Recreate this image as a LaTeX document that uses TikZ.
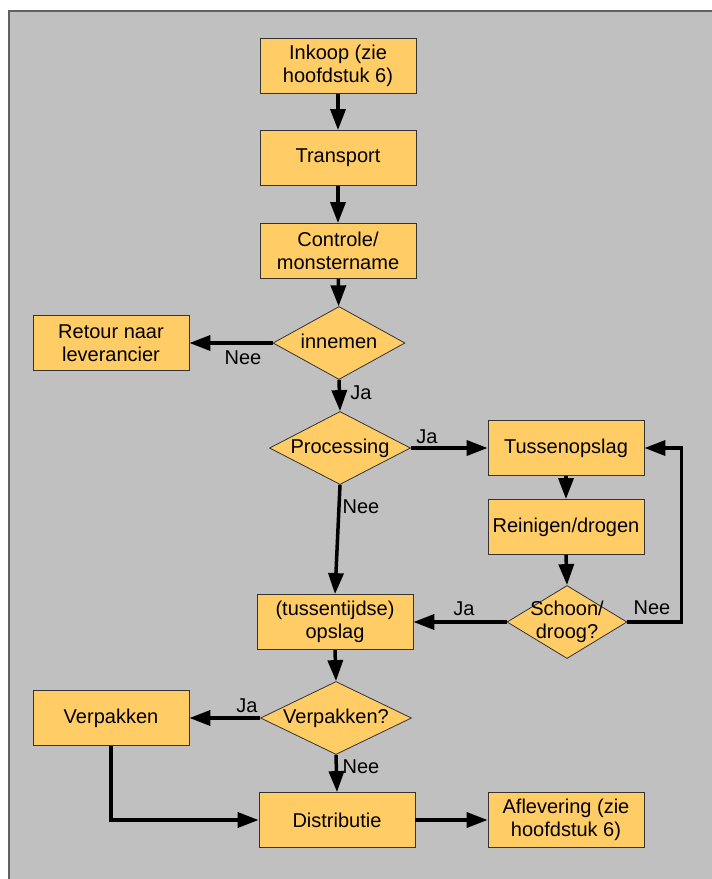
\documentclass[tikz,border=0pt]{standalone}
\usepackage{fontspec}
\setmainfont{Liberation Sans}
\usetikzlibrary{shapes.geometric,arrows.meta}
\definecolor{boxfill}{HTML}{FFCC66}
\definecolor{bggray}{HTML}{C0C0C0}
\definecolor{edgegray}{HTML}{606060}
\newcommand\dtext[1]{\smash{\makebox[0pt]{\raisebox{-6pt}{\begin{tabular}{@{}c@{}}#1\end{tabular}}}}}
\tikzset{
  procbox/.style={rectangle, draw=black!80, line width=0.8pt, fill=boxfill,
    minimum width=156pt, minimum height=55pt, inner sep=0pt, align=center,
    font=\fontsize{20pt}{23pt}\selectfont},
  decbox/.style={diamond, draw=black!80, line width=0.8pt, fill=boxfill,
    inner sep=0pt, font=\fontsize{20pt}{23pt}\selectfont},
  flow/.style={line width=3.5pt, -{Triangle[length=21pt,width=15pt]}},
  lbl/.style={font=\fontsize{20pt}{23pt}\selectfont, inner sep=0pt}
}
\begin{document}
\begin{tikzpicture}[x=1pt,y=-1pt]
\useasboundingbox (0,0) rectangle (712,879);
\fill[white] (0,0) rectangle (712,879);
\fill[bggray] (9,11) rectangle (712,879);
\draw[edgegray, line width=2pt] (9,879) -- (9,11) -- (712,11);

\node[procbox] (inkoop) at (338,66) {Inkoop (zie\\hoofdstuk 6)};
\node[procbox] (transport) at (338,158) {Transport};
\node[procbox] (controle) at (338,251) {Controle/\\monstername};
\node[decbox, minimum width=132pt, minimum height=73pt] (innemen) at (339,343) {\dtext{innemen}};
\node[procbox] (retour) at (111,343) {Retour naar\\leverancier};
\node[decbox, minimum width=141pt, minimum height=73pt] (processing) at (340,448) {\dtext{Processing}};
\node[procbox] (tussen) at (566,448) {Tussenopslag};
\node[procbox] (reinigen) at (566,527) {Reinigen/drogen};
\node[decbox, minimum width=120pt, minimum height=73pt] (schoon) at (567,622) {\dtext{Schoon/\\droog?}};
\node[procbox] (opslag) at (335,622) {(tussentijdse)\\opslag};
\node[decbox, minimum width=151pt, minimum height=73pt] (verpq) at (336,718) {\dtext{Verpakken?}};
\node[procbox] (verpakken) at (111,718) {Verpakken};
\node[procbox] (distributie) at (337,820) {Distributie};
\node[procbox] (aflevering) at (566,820) {Aflevering (zie\\hoofdstuk 6)};

\draw[flow] (inkoop) -- (transport);
\draw[flow] (transport) -- (controle);
\draw[flow] (controle) -- (innemen);
\draw[flow] (innemen.west) -- (retour.east);
\draw[flow] (innemen.south) -- (processing.north);
\draw[flow] (processing.east) -- (tussen.west);
\draw[flow] (processing.south) -- (opslag.north);
\draw[flow] (tussen) -- (reinigen);
\draw[flow] (reinigen.south) -- (schoon.north);
\draw[flow] (schoon.west) -- (opslag.east);
\draw[flow] (schoon.east) -- ++(54,0) |- (tussen.east);
\draw[flow] (opslag.south) -- (verpq.north);
\draw[flow] (verpq.west) -- (verpakken.east);
\draw[flow] (verpq.south) -- (distributie.north);
\draw[flow] (verpakken.south) |- (distributie.west);
\draw[flow] (distributie) -- (aflevering);

\node[lbl] (l1) at (243,358) {Nee};
\node[lbl] (l2) at (361,393) {Ja};
\node[lbl] (l3) at (427,437) {Ja};
\node[lbl] (l4) at (361,507) {Nee};
\node[lbl] (l5) at (464,609) {Ja};
\node[lbl] (l6) at (652,608) {Nee};
\node[lbl] (l7) at (247,706) {Ja};
\node[lbl] (l8) at (361,767) {Nee};
\end{tikzpicture}
\end{document}
